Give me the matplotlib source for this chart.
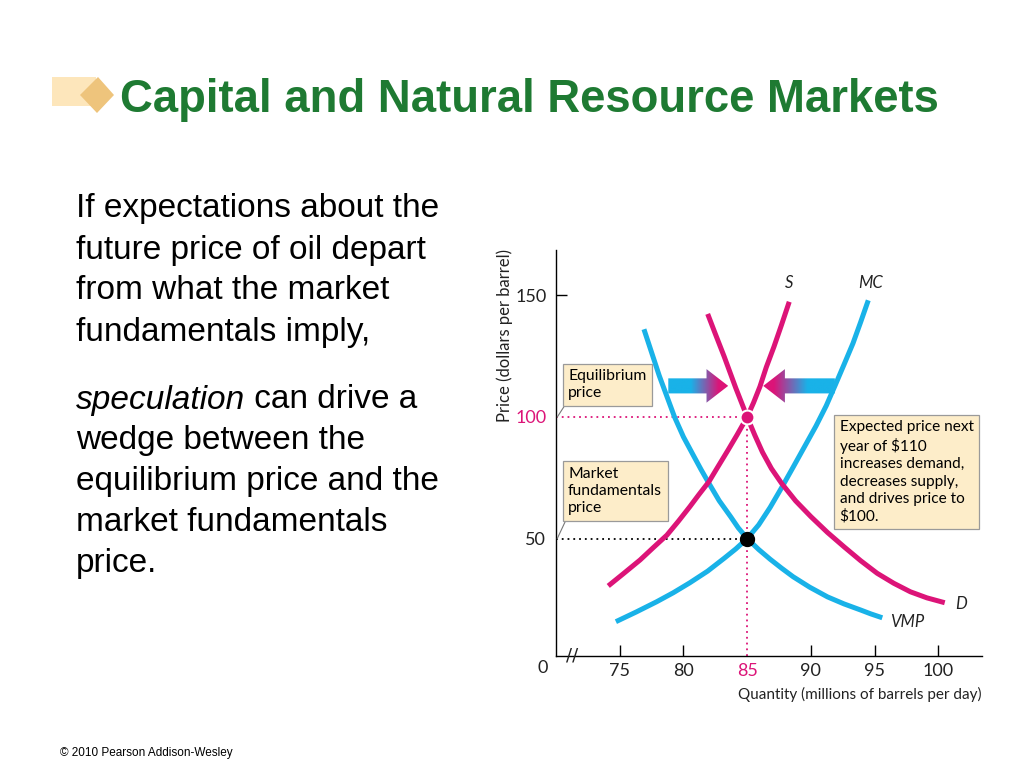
import numpy as np
import matplotlib.pyplot as plt
from matplotlib.patches import FancyArrow, Rectangle, Polygon
from matplotlib.colors import LinearSegmentedColormap

# curve data (quantity, price)
vmp_q = [76.9, 78.1, 79.3, 80.0, 80.8, 81.4, 82.0, 82.8, 83.7, 84.3, 85.0, 85.9, 86.8, 87.7,
         88.6, 89.9, 91.3, 92.6, 93.9, 94.7, 95.6]
vmp_p = [136.1, 117.0, 100.0, 91.8, 84.0, 78.2, 72.7, 65.6, 59.0, 54.4, 50.0, 45.5, 41.5, 37.8,
         34.3, 30.0, 26.0, 23.1, 20.6, 19.0, 17.4]
d_q = [81.9, 82.5, 83.2, 84.1, 85.0, 85.6, 86.2, 86.9, 87.7, 88.8, 90.0, 91.3, 92.6, 93.9,
       95.2, 96.5, 97.8, 99.1, 100.5]
d_p = [142.4, 134.2, 124.8, 112.0, 100.0, 92.5, 85.5, 78.8, 72.7, 65.5, 59.0, 52.5, 46.6, 40.9,
       35.7, 31.6, 28.1, 25.6, 23.6]
s_q = [74.1, 75.3, 76.6, 77.6, 78.7, 79.6, 80.5, 81.2, 82.0, 82.7, 83.5, 84.2, 85.0, 85.5,
       86.0, 86.5, 87.1, 87.7, 88.3]
s_p = [30.5, 35.6, 41.2, 46.1, 51.4, 57.1, 63.1, 68.0, 73.4, 79.5, 86.4, 92.6, 100.0, 105.9,
       112.5, 120.5, 128.9, 138.0, 147.4]
mc_q = [74.7, 76.3, 77.9, 79.2, 80.5, 81.9, 83.2, 84.1, 85.0, 85.9, 86.8, 87.7, 88.6, 89.5,
        90.4, 91.2, 91.9, 92.6, 93.3, 93.9, 94.5]
mc_p = [15.8, 19.8, 24.0, 27.7, 31.8, 36.6, 41.9, 45.7, 50.0, 55.6, 62.8, 70.9, 79.3, 87.8,
        96.3, 104.6, 113.0, 121.6, 130.3, 139.0, 148.0]

x_ticks = [75, 80, 85, 90, 95, 100]
y_ticks = [50, 100, 150]
eq_q, eq_p = 85, 100
fund_q, fund_p = 85, 50

CYAN = '#19b2e8'
MAG = '#dc1478'
GREEN = '#1e7a32'
BOX = '#fdedc9'
CHART_FONT = ['Lato', 'DejaVu Sans']
TEXT_FONT = ['Liberation Sans', 'DejaVu Sans']

fig = plt.figure(figsize=(10.24, 7.68), dpi=100)
W, H = 1024, 768

def fy(py):
    return 1 - py / H

# title decoration
fig.patches.append(Rectangle((52 / W, fy(106)), 44 / W, 29 / H, transform=fig.transFigure,
                             facecolor='#fde6bb', edgecolor='none'))
fig.patches.append(Polygon([(80 / W, fy(95)), (98 / W, fy(77)), (114 / W, fy(95)), (97 / W, fy(113))],
                           closed=True, transform=fig.transFigure, facecolor='#eec47c', edgecolor='none'))
fig.text(120 / W, fy(112), 'Capital and Natural Resource Markets', fontsize=32.8, fontweight='bold',
         color=GREEN, family=TEXT_FONT, va='baseline', ha='left')

# left column text
para1 = ['If expectations about the', 'future price of oil depart', 'from what the market',
         'fundamentals imply,']
para2 = [' can drive a', 'wedge between the', 'equilibrium price and the', 'market fundamentals', 'price.']
base1 = [217.5, 258.5, 299.5, 340.5]
base2 = [408.5, 449, 490, 531, 572]
for line, b in zip(para1, base1):
    fig.text(76 / W, fy(b), line, fontsize=24, family=TEXT_FONT, va='baseline', ha='left')
spec = fig.text(76 / W, fy(base2[0]), 'speculation', fontsize=24, style='italic',
                family=TEXT_FONT, va='baseline', ha='left')
r = fig.canvas.get_renderer()
bb = spec.get_window_extent(renderer=r)
fig.text(bb.x1 / W, fy(base2[0]), para2[0], fontsize=24, family=TEXT_FONT, va='baseline', ha='left')
for line, b in zip(para2[1:], base2[1:]):
    fig.text(76 / W, fy(b), line, fontsize=24, family=TEXT_FONT, va='baseline', ha='left')

fig.text(60 / W, fy(756), '\u00a9 2010 Pearson Addison-Wesley', fontsize=8.5, family=TEXT_FONT,
         va='baseline', ha='left')

# chart axes
ax = fig.add_axes([556 / W, 1 - 655.7 / H, (981.7 - 556) / W, (655.7 - 250) / H])
ax.set_xlim(70, 103.4)
ax.set_ylim(1.8, 168.7)
for s in ['top', 'right']:
    ax.spines[s].set_visible(False)
for s in ['left', 'bottom']:
    ax.spines[s].set_linewidth(1.0)

ax.plot(vmp_q, vmp_p, color=CYAN, lw=3.6, solid_capstyle='butt', solid_joinstyle='round', zorder=3)
ax.plot(mc_q, mc_p, color=CYAN, lw=3.6, solid_capstyle='butt', solid_joinstyle='round', zorder=3)
ax.plot(d_q, d_p, color=MAG, lw=3.6, solid_capstyle='butt', solid_joinstyle='round', zorder=4)
ax.plot(s_q, s_p, color=MAG, lw=3.6, solid_capstyle='butt', solid_joinstyle='round', zorder=4)

# dotted guides
ax.plot([70, eq_q], [eq_p, eq_p], color=MAG, lw=1.3, ls=(0, (1, 2.2)), zorder=2)
ax.plot([eq_q, eq_q], [1.8, eq_p], color=MAG, lw=1.3, ls=(0, (1, 2.2)), zorder=2)
ax.plot([70, fund_q], [fund_p, fund_p], color='black', lw=1.3, ls=(0, (1, 2.2)), zorder=2)

ax.plot([eq_q], [eq_p], 'o', ms=10, color=MAG, mec='white', mew=1.5, zorder=6)
ax.plot([fund_q], [fund_p], 'o', ms=10, color='black', zorder=6)

# ticks
ax.set_xticks(x_ticks)
ax.set_xticklabels([str(v) for v in x_ticks], fontsize=13, family=CHART_FONT, color='#222222')
ax.set_yticks(y_ticks)
ax.set_yticklabels([str(v) for v in y_ticks], fontsize=13, family=CHART_FONT, color='#222222')
ax.tick_params(axis='x', direction='in', length=8, width=1, pad=5)
ax.tick_params(axis='y', direction='in', length=8, width=1, pad=7)
for lab, v in zip(ax.get_xticklabels(), x_ticks):
    if v == eq_q:
        lab.set_color(MAG)
for t, v in zip(ax.xaxis.get_major_ticks(), x_ticks):
    if v == eq_q:
        t.tick1line.set_visible(False)
for lab, v in zip(ax.get_yticklabels(), y_ticks):
    if v == eq_p:
        lab.set_color(MAG)
for t, v in zip(ax.yaxis.get_major_ticks(), y_ticks):
    if v != 150:
        t.tick1line.set_visible(False)

ax.annotate('0', xy=(0, 0), xycoords='axes fraction', xytext=(-9.5, -9), textcoords='offset points',
            ha='center', va='center', fontsize=13, family=CHART_FONT, color='#222222')
ax.text(0.037, 0.0, '//', transform=ax.transAxes, ha='center', va='center', fontsize=13,
        family='DejaVu Sans', color='#222222')

ax.text(1.0, -0.095, 'Quantity (millions of barrels per day)', transform=ax.transAxes, ha='right',
        va='center', fontsize=11, family=CHART_FONT, color='#222222')
ax.text(-0.12, 0.79, 'Price (dollars per barrel)', transform=ax.transAxes, rotation=90, ha='center',
        va='center', fontsize=12, family=CHART_FONT, color='#222222')

# curve labels
lab_kw = dict(fontsize=12, style='italic', family=CHART_FONT, color='#222222')
ax.text(88.3, 152, 'S', ha='center', va='bottom', **lab_kw)
ax.text(94.7, 152, 'MC', ha='center', va='bottom', **lab_kw)
ax.text(101.3, 23, 'D', ha='left', va='center', **lab_kw)
ax.text(96.2, 15.5, 'VMP', ha='left', va='center', **lab_kw)

# callout boxes
box_kw = dict(boxstyle='square,pad=0.35', facecolor=BOX, edgecolor='#9a9a9a', lw=0.9)
arr_kw = dict(arrowstyle='-', color='#777777', lw=0.8, relpos=(0, 0), shrinkA=0, shrinkB=0)
ax.annotate('Equilibrium\nprice', xy=(70.1, eq_p), xytext=(70.95, 113.3), ha='left', va='center',
            fontsize=11.3, family=CHART_FONT, linespacing=1.3, bbox=box_kw, arrowprops=arr_kw,
            zorder=7)
ax.annotate('Market\nfundamentals\nprice', xy=(70.1, fund_p), xytext=(70.95, 69.5), ha='left',
            va='center', fontsize=11.3, family=CHART_FONT, linespacing=1.3, bbox=box_kw,
            arrowprops=arr_kw, zorder=7)
ax.text(92.25, 77.4, 'Expected price next\nyear of $110\nincreases demand,\ndecreases supply,\n'
        'and drives price to\n$100.', ha='left', va='center', fontsize=11.1, family=CHART_FONT,
        linespacing=1.3, bbox=box_kw, zorder=7)

# gradient arrows
cmap = LinearSegmentedColormap.from_list('cm', [(0, CYAN), (0.38, CYAN), (0.85, MAG), (1, MAG)])
grad = np.linspace(0, 1, 256).reshape(1, -1)
arrow_specs = [(78.81, 83.51, 112.8), (91.88, 86.26, 112.8)]
for tail, tip, yc in arrow_specs:
    length = tip - tail
    arr = FancyArrow(tail, yc, length, 0, width=6.2, head_width=13.8, head_length=1.7,
                     length_includes_head=True, facecolor='none', edgecolor='none')
    ax.add_patch(arr)
    g = grad if length > 0 else grad[:, ::-1]
    im = ax.imshow(g, cmap=cmap, extent=[min(tail, tip), max(tail, tip), yc - 7, yc + 7],
                   aspect='auto', zorder=5, interpolation='bilinear')
    im.set_clip_path(arr)

ax.set_xlim(70, 103.4)
ax.set_ylim(1.8, 168.7)

fig.savefig('out.png', dpi=100)
